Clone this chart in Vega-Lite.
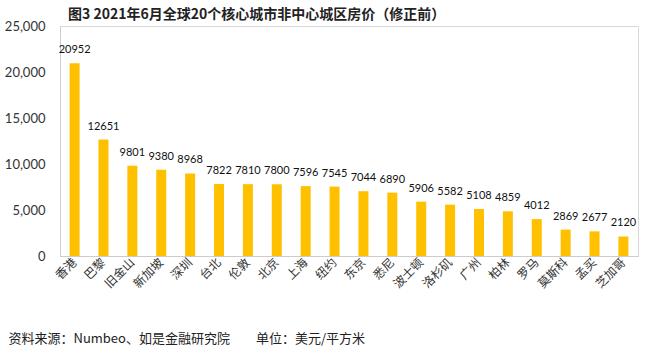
{
  "$schema": "https://vega.github.io/schema/vega-lite/v6.json",
  "width": 578,
  "height": 230,
  "autosize": {"type": "none"},
  "padding": {"left": 60, "top": 26, "right": 12, "bottom": 106},
  "background": "white",
  "title": {
    "text": "图3 2021年6月全球20个核心城市非中心城区房价（修正前）",
    "anchor": "start",
    "frame": "group",
    "dx": 8,
    "offset": -2,
    "fontSize": 14,
    "font": "Noto Sans CJK SC",
    "fontWeight": "bold",
    "color": "#222222"
  },
  "config": {
    "view": {"stroke": "#d9d9d9", "strokeWidth": 1},
    "font": "Noto Sans CJK SC"
  },
  "data": {
    "values": [
      {"city": "香港", "price": 20952},
      {"city": "巴黎", "price": 12651},
      {"city": "旧金山", "price": 9801},
      {"city": "新加坡", "price": 9380},
      {"city": "深圳", "price": 8968},
      {"city": "台北", "price": 7822},
      {"city": "伦敦", "price": 7810},
      {"city": "北京", "price": 7800},
      {"city": "上海", "price": 7596},
      {"city": "纽约", "price": 7545},
      {"city": "东京", "price": 7044},
      {"city": "悉尼", "price": 6890},
      {"city": "波士顿", "price": 5906},
      {"city": "洛杉矶", "price": 5582},
      {"city": "广州", "price": 5108},
      {"city": "柏林", "price": 4859},
      {"city": "罗马", "price": 4012},
      {"city": "莫斯科", "price": 2869},
      {"city": "孟买", "price": 2677},
      {"city": "芝加哥", "price": 2120}
    ]
  },
  "encoding": {
    "x": {
      "field": "city",
      "type": "nominal",
      "sort": null,
      "scale": {"paddingInner": 0.65, "paddingOuter": 0.33},
      "axis": {
        "title": "资料来源：Numbeo、如是金融研究院\u3000\u3000单位：美元/平方米",
        "titleAnchor": "start",
        "titleAlign": "left",
        "titleX": -52,
        "titleY": 76,
        "titleFontSize": 13,
        "titleFontWeight": "normal",
        "titleColor": "#222222",
        "labelAngle": -45,
        "labelAlign": "right",
        "labelBaseline": "middle",
        "labelFontSize": 12,
        "labelColor": "#333333",
        "labelPadding": 4,
        "ticks": false,
        "domainColor": "#cccccc"
      }
    },
    "y": {
      "field": "price",
      "type": "quantitative",
      "scale": {"domain": [0, 25000]},
      "axis": {
        "title": null,
        "values": [0, 5000, 10000, 15000, 20000, 25000],
        "format": ",d",
        "grid": false,
        "ticks": false,
        "labelPadding": 15,
        "labelFontSize": 13,
        "labelFont": "Lato",
        "labelColor": "#333333",
        "domainColor": "#cccccc"
      }
    }
  },
  "layer": [
    {"mark": {"type": "bar", "color": "#FFC000", "size": 10}},
    {
      "mark": {"type": "text", "baseline": "bottom", "dy": -8, "fontSize": 11, "font": "Lato", "color": "#111111"},
      "encoding": {"text": {"field": "price", "type": "quantitative", "format": "d"}}
    }
  ]
}
